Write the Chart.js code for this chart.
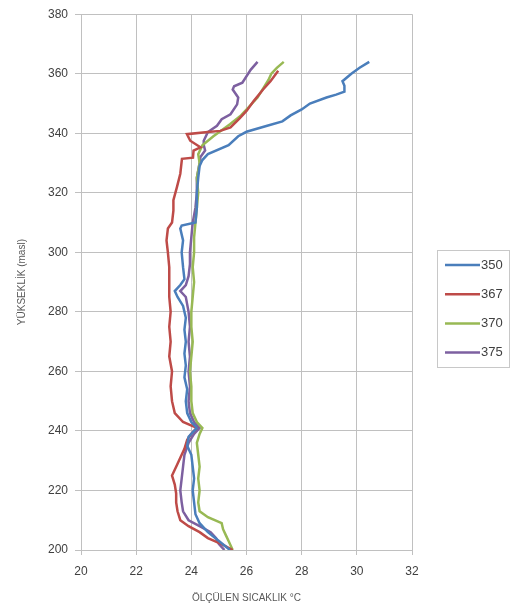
<!DOCTYPE html>
<html>
<head>
<meta charset="utf-8">
<script src="https://cdn.jsdelivr.net/npm/chart.js@4/dist/chart.umd.min.js"></script>
<style>
  html, body { margin: 0; padding: 0; background: #fff; }
  #wrap { width: 516px; height: 608px; }
</style>
</head>
<body>
<div id="wrap"><canvas id="chart" width="516" height="608"></canvas></div>
<script>
// series names and colours
const seriesNames = ['350', '367', '370', '375'];
const seriesColors = ['#4a7ebb', '#be4b48', '#98b954', '#7d60a0'];

// axis ticks
const xTicks = [20, 22, 24, 26, 28, 30, 32];
const yTicks = [200, 220, 240, 260, 280, 300, 320, 340, 360, 380];

// 350
const alt350 = [200, 203, 206, 209, 212, 216, 220, 224, 228, 232, 235, 238, 241, 243, 246, 250, 254, 258, 262, 266, 270, 274, 278, 282, 285, 287, 289, 291, 295, 300, 304, 308, 309, 310, 315, 320, 325, 329, 331, 333, 336, 339, 340.5, 342.5, 344, 346, 348, 350, 352, 353, 354, 356, 357.5, 360, 362, 364];
const temp350 = [25.4, 25.0, 24.6, 24.3, 24.15, 24.1, 24.05, 24.1, 24.05, 24.0, 23.85, 23.9, 24.2, 24.0, 23.85, 23.8, 23.85, 23.75, 23.8, 23.75, 23.8, 23.75, 23.8, 23.7, 23.5, 23.4, 23.6, 23.75, 23.7, 23.65, 23.7, 23.6, 23.65, 24.15, 24.2, 24.2, 24.25, 24.3, 24.4, 24.6, 25.35, 25.7, 26.0, 26.75, 27.3, 27.6, 28.0, 28.3, 28.9, 29.25, 29.55, 29.55, 29.48, 29.8, 30.1, 30.45];

// 367
const alt367 = [200, 202, 204, 206, 208, 210, 213, 216, 219, 222, 225, 228, 231, 234, 237, 239, 241, 243, 246, 250, 255, 260, 265, 270, 275, 280, 285, 290, 295, 300, 304, 308, 310, 314, 317.5, 322, 326.4, 331.4, 331.8, 334.2, 335.3, 337.5, 339.7, 340.4, 340.8, 342, 345, 347.5, 350.8, 354.7, 357.5, 361];
const temp367 = [25.5, 25.1, 24.6, 24.3, 23.9, 23.6, 23.5, 23.45, 23.45, 23.4, 23.3, 23.45, 23.6, 23.75, 23.85, 24.0, 24.2, 23.7, 23.4, 23.3, 23.25, 23.3, 23.2, 23.25, 23.2, 23.25, 23.2, 23.2, 23.2, 23.15, 23.1, 23.15, 23.3, 23.35, 23.35, 23.48, 23.6, 23.66, 24.06, 24.08, 24.33, 23.96, 23.84, 24.6, 25.05, 25.42, 25.75, 26.0, 26.26, 26.6, 26.87, 27.15];

// 370
const alt370 = [200, 203, 205, 207, 209, 211, 213, 216, 220, 224, 228, 232, 236, 239, 241, 243, 246, 250, 255, 260, 265, 270, 275, 280, 285, 290, 295, 300, 305, 310, 315, 320, 325, 330, 333, 336, 339, 341, 343, 346, 349, 352, 355, 358, 360, 362, 364];
const temp370 = [25.5, 25.35, 25.25, 25.15, 25.1, 24.6, 24.3, 24.25, 24.3, 24.25, 24.3, 24.25, 24.2, 24.3, 24.4, 24.2, 24.05, 24.0, 24.0, 23.95, 24.0, 24.05, 24.0, 24.0, 24.05, 24.1, 24.05, 24.1, 24.1, 24.15, 24.2, 24.25, 24.2, 24.3, 24.25, 24.4, 24.8, 25.1, 25.4, 25.8, 26.1, 26.4, 26.6, 26.8, 26.9, 27.1, 27.35];

// 375
const alt375 = [200, 202, 204, 206, 208, 210, 213, 216, 220, 224, 228, 232, 236, 239, 241, 243, 246, 250, 255, 260, 265, 270, 275, 280, 285, 287, 289, 292, 296, 300, 305, 310, 315, 320, 325, 330, 332, 334.2, 336, 337.5, 340.4, 342.5, 344.7, 346.4, 349.7, 352, 354.7, 355.8, 357, 361.3, 364];
const temp375 = [25.2, 25.0, 24.9, 24.7, 24.3, 23.9, 23.7, 23.65, 23.6, 23.65, 23.7, 23.75, 23.9, 24.1, 24.3, 24.1, 23.95, 23.9, 23.95, 23.9, 23.95, 23.9, 23.95, 23.9, 23.8, 23.6, 23.8, 23.9, 23.95, 23.95, 24.0, 24.05, 24.15, 24.2, 24.2, 24.3, 24.33, 24.5, 24.45, 24.45, 24.6, 24.93, 25.1, 25.42, 25.66, 25.7, 25.5, 25.55, 25.85, 26.15, 26.4];

const alts = [alt350, alt367, alt370, alt375];
const temps = [temp350, temp367, temp370, temp375];

const datasets = seriesNames.map((name, i) => ({
  label: name,
  data: temps[i].map((t, k) => ({ x: t, y: alts[i][k] })),
  borderColor: seriesColors[i],
  backgroundColor: seriesColors[i],
  borderWidth: 2.5,
  pointRadius: 0,
  showLine: true,
  tension: 0
}));

// legend with a frame, drawn by hand
const boxLegend = {
  id: 'boxLegend',
  afterDraw(chart) {
    const ctx = chart.ctx;
    ctx.save();
    ctx.strokeStyle = '#c8c8c8';
    ctx.lineWidth = 1;
    ctx.strokeRect(437.5, 250.5, 72, 117);
    ctx.font = '13px "Liberation Sans", Arial, sans-serif';
    ctx.textBaseline = 'middle';
    ctx.fillStyle = '#404040';
    seriesNames.forEach((name, i) => {
      const y = 265 + i * 29.2;
      ctx.strokeStyle = seriesColors[i];
      ctx.lineWidth = 2.5;
      ctx.beginPath();
      ctx.moveTo(445, y);
      ctx.lineTo(480, y);
      ctx.stroke();
      ctx.fillText(name, 481, y);
    });
    ctx.restore();
  }
};

const tickFont = { family: '"Liberation Sans", Arial, sans-serif', size: 12 };
const titleFont = { family: '"Liberation Sans", Arial, sans-serif', size: 10 };

new Chart(document.getElementById('chart'), {
  type: 'scatter',
  data: { datasets },
  options: {
    responsive: false,
    animation: false,
    layout: { padding: { top: 9, right: 104, left: 0, bottom: 0 } },
    plugins: {
      legend: { display: false },
      tooltip: { enabled: false }
    },
    scales: {
      x: {
        min: 20, max: 32,
        afterBuildTicks: s => { s.ticks = xTicks.map(v => ({ value: v })); },
        afterFit: s => { s.height = 58; },
        grid: { color: '#c0c0c0', tickLength: 5, drawTicks: true },
        border: { color: '#c0c0c0' },
        ticks: { font: tickFont, color: '#404040', padding: 9, maxRotation: 0 },
        title: { display: true, text: 'ÖLÇÜLEN SICAKLIK °C', font: titleFont, color: '#595959', padding: { top: 0, bottom: 4 } }
      },
      y: {
        min: 200, max: 380,
        afterBuildTicks: s => { s.ticks = yTicks.map(v => ({ value: v })); },
        afterFit: s => { s.width = 81; },
        grid: { color: '#c0c0c0', tickLength: 6, drawTicks: true },
        border: { color: '#c0c0c0' },
        ticks: { font: tickFont, color: '#404040', padding: 7 },
        title: { display: true, text: 'YÜKSEKLİK (masl)', font: titleFont, color: '#595959', padding: { top: 16, bottom: 0 } }
      }
    }
  },
  plugins: [boxLegend]
});
</script>
</body>
</html>
